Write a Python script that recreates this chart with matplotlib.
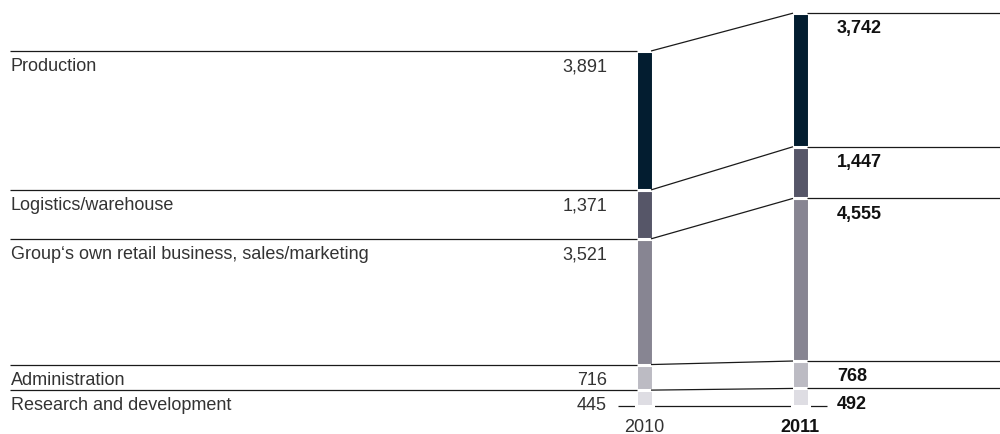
import matplotlib.pyplot as plt
import numpy as np

plt.rcParams['font.family'] = ['Liberation Sans', 'DejaVu Sans']

# Employees by function, bottom segment first
categories = ['Research and development', 'Administration',
              'Group\u2018s own retail business, sales/marketing',
              'Logistics/warehouse', 'Production']
years = ['2010', '2011']
values_2010 = [445, 716, 3521, 1371, 3891]
values_2011 = [492, 768, 4555, 1447, 3742]
colors = ['#dedde3', '#bcbbc3', '#878592', '#565668', '#031d30']

# layout in pixel terms (figure is 1000 x 435)
px_per_x = 156.0      # horizontal distance between the two bars
px_per_y = 0.0357     # pixels per employee
x0_px, base_px = 644, 407

fig = plt.figure(figsize=(10, 4.35), dpi=100)
ax = fig.add_axes([0, 0, 1, 1])
ax.set_xlim(-x0_px / px_per_x, (1000 - x0_px) / px_per_x)
ax.set_ylim((base_px - 435) / px_per_y, base_px / px_per_y)
ax.axis('off')

half = 7 / px_per_x
xpos = np.arange(len(years))
bottoms = np.zeros(2)
data = np.array([values_2010, values_2011])
for i, c in enumerate(colors):
    ax.bar(xpos, data[:, i], bottom=bottoms, width=17 / px_per_x,
           color=c, edgecolor='white', linewidth=2.2, zorder=3)
    bottoms += data[:, i]

tops = np.cumsum(data, axis=1)
left_end = ax.get_xlim()[0] + 10 / px_per_x
right_end = ax.get_xlim()[1]
line_kw = dict(color='#1a1a1a', lw=0.9, zorder=4, solid_capstyle='butt')
for i in range(len(categories)):
    y0, y1 = tops[0, i], tops[1, i]
    ax.plot([left_end, xpos[0] - half], [y0, y0], **line_kw)
    ax.plot([xpos[0] + half, xpos[1] - half], [y0, y1], **line_kw)
    ax.plot([xpos[1] + half, right_end], [y1, y1], **line_kw)

# baseline between the two R&D values
ax.plot([(618 - x0_px) / px_per_x, (827 - x0_px) / px_per_x], [0, 0],
        **{**line_kw, 'zorder': 2})

fs = 13
txt_kw = dict(textcoords='offset points', va='top', fontsize=fs, color='#333333')
lab_x = left_end + 1 / px_per_x
val10_x = (607 - x0_px) / px_per_x
val11_x = (837 - x0_px) / px_per_x
for i, cat in enumerate(categories):
    ax.annotate(cat, (lab_x, tops[0, i]), xytext=(0, -4.5), ha='left', **txt_kw)
    ax.annotate(f'{values_2010[i]:,}', (val10_x, tops[0, i]), xytext=(0, -4.5),
                ha='right', **txt_kw)
    ax.annotate(f'{values_2011[i]:,}', (val11_x, tops[1, i]), xytext=(0, -4.5),
                ha='left', fontweight='bold', **{**txt_kw, 'color': '#111111'})

for x, yr, w in zip(xpos, years, ['normal', 'bold']):
    ax.annotate(yr, (x, 0), xytext=(0, -14.5), ha='center', textcoords='offset points',
                va='center', fontsize=fs, fontweight=w,
                color='#333333' if w == 'normal' else '#111111')

fig.savefig('out.png', dpi=100, facecolor='white')
